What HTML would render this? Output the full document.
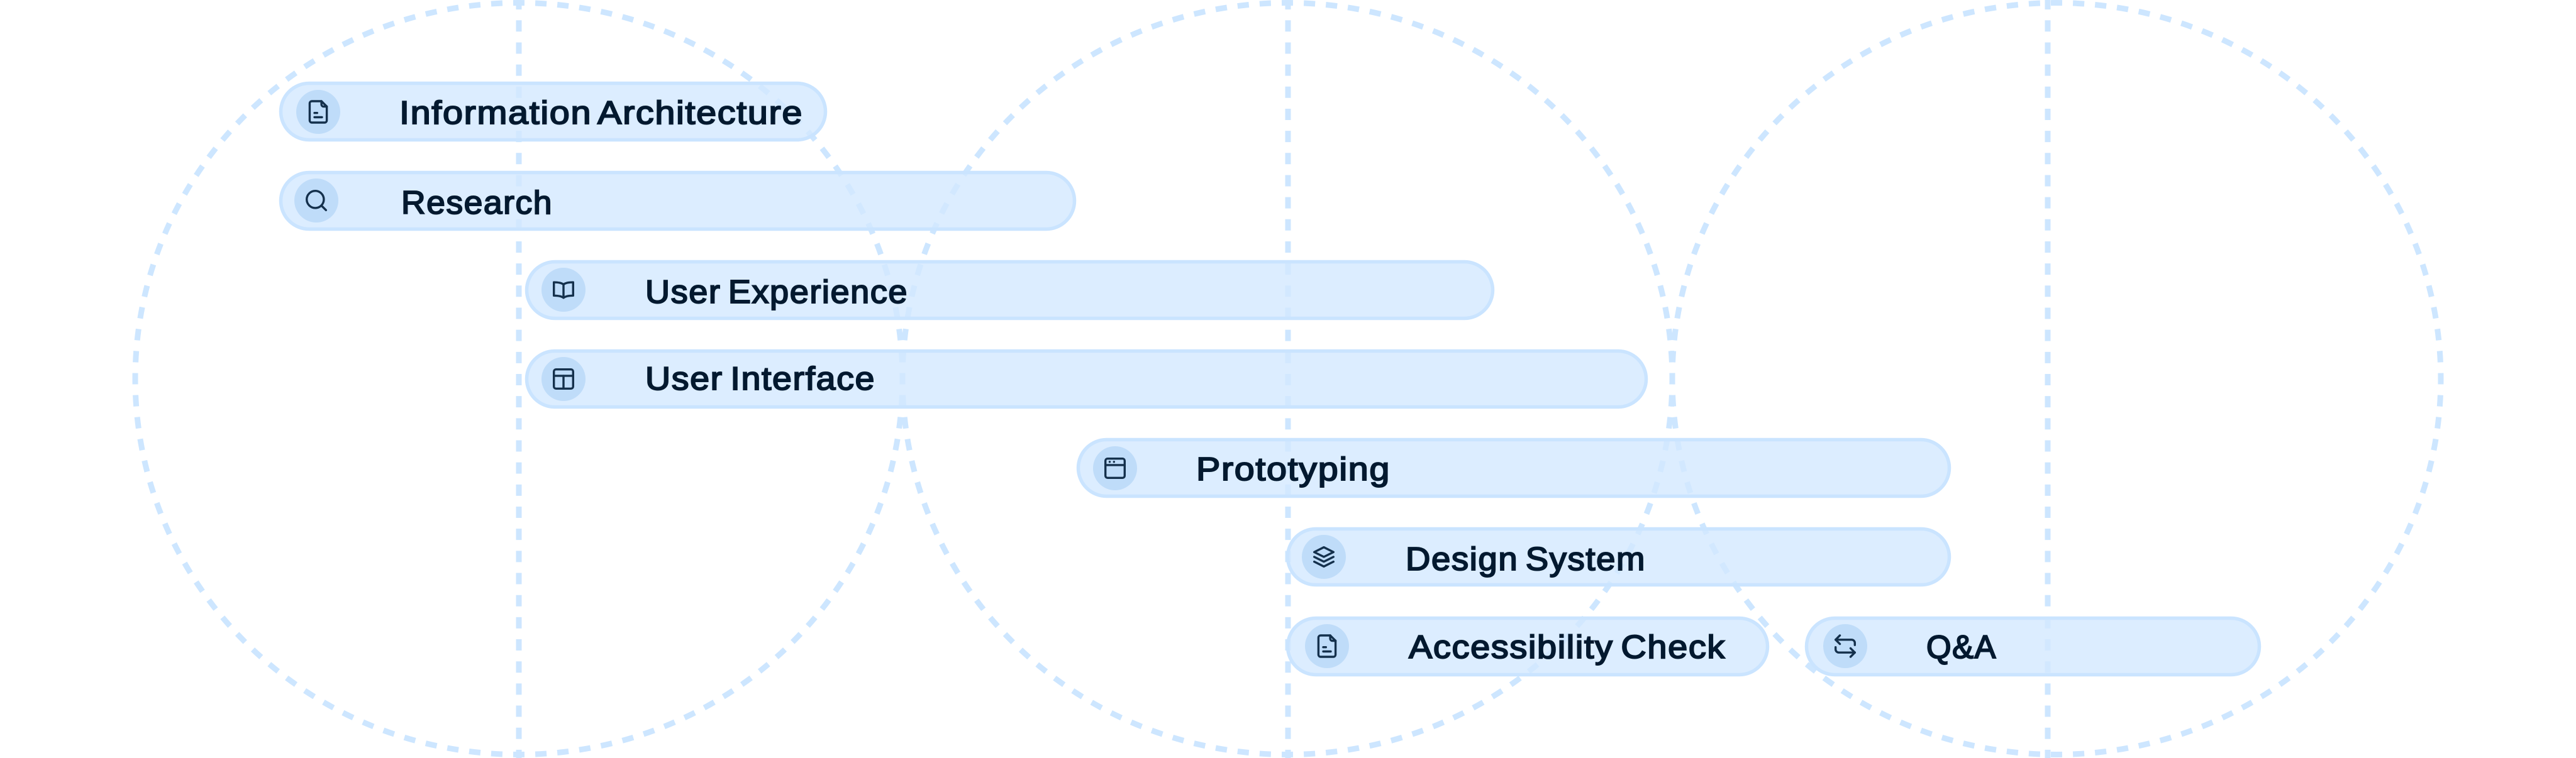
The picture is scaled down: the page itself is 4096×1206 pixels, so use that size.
<!DOCTYPE html>
<html>
<head>
<meta charset="utf-8">
<style>
html,body{margin:0;padding:0;background:#fff;width:4096px;height:1206px;overflow:hidden}
svg{display:block}
.t{font-family:"Liberation Sans",sans-serif;font-weight:400;font-size:52px;fill:#03192f;stroke:#03192f;stroke-width:2px;letter-spacing:1.5px;word-spacing:-5px}
.p{fill:rgba(211,233,255,.8)}
.b{fill:none;stroke:#cae4ff;stroke-width:5.5}
.ic{fill:#bfdcf9}
.i{fill:none;stroke:#14304c;stroke-width:2;stroke-linecap:round;stroke-linejoin:round}
.d{fill:none;stroke:#cde6ff;stroke-width:9}
.q{stroke-dasharray:18 17;stroke-dashoffset:9}
.v{stroke-dasharray:18 17.17}
</style>
</head>
<body>
<svg width="4096" height="1206" viewBox="0 0 4096 1206" xmlns="http://www.w3.org/2000/svg">
<!-- dashed circles -->
<g class="d q">
<path pathLength="945" d="M1435 602.5A610 598 0 0 1 825 1200.5"/>
<path pathLength="945" d="M825 1200.5A610 598 0 0 1 215 602.5"/>
<path pathLength="945" d="M215 602.5A610 598 0 0 1 825 4.5"/>
<path pathLength="945" d="M825 4.5A610 598 0 0 1 1435 602.5"/>
<path pathLength="945" d="M2659 602.5A612 598 0 0 1 2047 1200.5"/>
<path pathLength="945" d="M2047 1200.5A612 598 0 0 1 1435 602.5"/>
<path pathLength="945" d="M1435 602.5A612 598 0 0 1 2047 4.5"/>
<path pathLength="945" d="M2047 4.5A612 598 0 0 1 2659 602.5"/>
<path pathLength="945" d="M3881 602.5A611 598 0 0 1 3270 1200.5"/>
<path pathLength="945" d="M3270 1200.5A611 598 0 0 1 2659 602.5"/>
<path pathLength="945" d="M2659 602.5A611 598 0 0 1 3270 4.5"/>
<path pathLength="945" d="M3270 4.5A611 598 0 0 1 3881 602.5"/>
</g>
<!-- vertical dashed lines -->
<g class="d v">
<line x1="825" y1="-2.9" x2="825" y2="1206"/>
<line x1="2048" y1="-2.9" x2="2048" y2="1206"/>
<line x1="3256" y1="-2.9" x2="3256" y2="1206"/>
</g>

<!-- pills -->
<rect class="p" x="444" y="130" width="871" height="95" rx="47.5"/>
<rect class="b" x="446.5" y="132.5" width="866" height="90" rx="45"/>
<rect class="p" x="444" y="272" width="1267" height="95" rx="47.5"/>
<rect class="b" x="446.5" y="274.5" width="1262" height="90" rx="45"/>
<rect class="p" x="835" y="414" width="1541" height="95" rx="47.5"/>
<rect class="b" x="837.5" y="416.5" width="1536" height="90" rx="45"/>
<rect class="p" x="835" y="556" width="1785" height="94" rx="47"/>
<rect class="b" x="837.5" y="558.5" width="1780" height="89" rx="44.5"/>
<rect class="p" x="1712" y="697" width="1390" height="95" rx="47.5"/>
<rect class="b" x="1714.5" y="699.5" width="1385" height="90" rx="45"/>
<rect class="p" x="2045" y="839" width="1057" height="94" rx="47"/>
<rect class="b" x="2047.5" y="841.5" width="1052" height="89" rx="44.5"/>
<rect class="p" x="2045" y="981" width="768" height="95" rx="47.5"/>
<rect class="b" x="2047.5" y="983.5" width="763" height="90" rx="45"/>
<rect class="p" x="2870" y="981" width="725" height="95" rx="47.5"/>
<rect class="b" x="2872.5" y="983.5" width="720" height="90" rx="45"/>

<!-- icon circles -->
<circle class="ic" cx="506" cy="178" r="35"/>
<circle class="ic" cx="503" cy="319" r="35"/>
<circle class="ic" cx="896" cy="461" r="35"/>
<circle class="ic" cx="896" cy="603" r="35"/>
<circle class="ic" cx="1773" cy="745" r="35"/>
<circle class="ic" cx="2105" cy="886" r="35"/>
<circle class="ic" cx="2110" cy="1028" r="35"/>
<circle class="ic" cx="2934" cy="1028" r="35"/>

<!-- icons: 24-unit box scaled 1.7 -->
<g class="i" transform="translate(485.6 157.6) scale(1.7)"><path d="M15 2H6a2 2 0 0 0-2 2v16a2 2 0 0 0 2 2h12a2 2 0 0 0 2-2V7z"/><path d="M15 2v3a2 2 0 0 0 2 2h3"/><path d="M8.5 13h2.5"/><path d="M8.5 17h7"/></g>
<g class="i" transform="translate(482.6 298.6) scale(1.7)"><circle cx="11" cy="11" r="8"/><path d="m21 21-4.3-4.3"/></g>
<g class="i" transform="translate(875.6 440.6) scale(1.7)"><path d="M12 7C10 5.5 7 5 3 5v12.5c4 0 7 .5 9 2 2-1.5 5-2 9-2V5c-4 0-7 .5-9 2z"/><path d="M12 7v12.5"/></g>
<g class="i" transform="translate(875.6 582.6) scale(1.7)"><rect x="3" y="3" width="18" height="18" rx="2"/><path d="M3 9h18"/><path d="M12 9v12"/></g>
<g class="i" transform="translate(1752.6 724.6) scale(1.7)"><rect x="3" y="3" width="18" height="18" rx="2"/><path d="M3 9h18"/><path d="M7 6h.01"/><path d="M11 6h.01"/></g>
<g class="i" transform="translate(2084.6 865.6) scale(1.7)"><path d="M12 3l9 4.5-9 4.5-9-4.5z"/><path d="M3 12l9 4.5 9-4.5"/><path d="M3 16.5l9 4.5 9-4.5"/></g>
<g class="i" transform="translate(2089.6 1007.6) scale(1.7)"><path d="M15 2H6a2 2 0 0 0-2 2v16a2 2 0 0 0 2 2h12a2 2 0 0 0 2-2V7z"/><path d="M15 2v3a2 2 0 0 0 2 2h3"/><path d="M8.5 13h2.5"/><path d="M8.5 17h7"/></g>
<g class="i" transform="translate(2913.6 1007.6) scale(1.7)"><path d="M7 2L3 6l4 4"/><path d="M3 6h15a3 3 0 0 1 3 3v2"/><path d="M3 13v2a3 3 0 0 0 3 3h15"/><path d="M17 14l4 4-4 4"/></g>

<!-- labels -->
<text class="t" x="635" y="197" textLength="642" lengthAdjust="spacingAndGlyphs">Information Architecture</text>
<text class="t" x="638" y="340" textLength="241" lengthAdjust="spacingAndGlyphs">Research</text>
<text class="t" x="1026" y="482" textLength="418" lengthAdjust="spacingAndGlyphs">User Experience</text>
<text class="t" x="1026" y="620" textLength="366" lengthAdjust="spacingAndGlyphs">User Interface</text>
<text class="t" x="1902" y="764" textLength="309" lengthAdjust="spacingAndGlyphs">Prototyping</text>
<text class="t" x="2235" y="907" textLength="382" lengthAdjust="spacingAndGlyphs">Design System</text>
<text class="t" x="2240" y="1047" textLength="504" lengthAdjust="spacingAndGlyphs">Accessibility Check</text>
<text class="t" x="3063" y="1047" textLength="112" lengthAdjust="spacingAndGlyphs">Q&amp;A</text>
</svg>
</body>
</html>
